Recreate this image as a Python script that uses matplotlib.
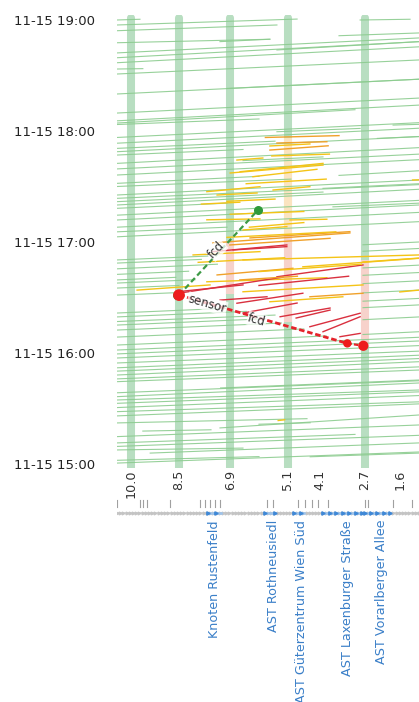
import numpy as np
import matplotlib
matplotlib.use("Agg")
import matplotlib.pyplot as plt

# time in minutes after 11-15 15:00, position in km (decreasing along the road)
band_km = [10.0, 8.5, 6.9, 5.1, 2.7]
band_lo = [-3.0, -3.0, -3.0, -3.0, -3.0]
band_hi = [241.0, 241.0, 241.0, 241.0, 241.0]

# speed coloured pieces of the sensor bands
seg_km = [6.9, 5.1, 5.1, 2.7]
seg_t0 = [94.0, 121.0, 79.0, 66.0]
seg_t1 = [118.0, 174.0, 121.0, 108.0]
seg_col = ['#f7d2cb', '#fbe4c0', '#f7d2cb', '#f7d2cb']

# free flow trajectories (green)
green_km0 = [10.44, 10.44, 10.44, 2.84, 10.44, 10.44, 10.44, 10.44, 10.44, 10.44, 5.44, 7.22, 3.5,
             10.44, 10.44, 10.44, 10.44, 5.44, 1.81,
             10.44, 10.44, 10.44, 10.44, 10.44, 10.44, 10.44, 10.44, 10.44, 10.44, 10.44, 10.44,
             10.44, 10.44, 3.69, 2.3, 3.5, 6.5,
             10.44, 10.44, 10.44, 10.44, 10.44, 10.44, 10.44, 10.44, 10.44, 10.44, 10.44, 10.44,
             10.44, 10.44,
             2.75, 2.75, 2.75, 2.75, 2.75, 2.75, 2.75, 2.75,
             10.44, 10.44, 10.44, 7.2, 10.44, 10.44, 10.44, 10.44, 10.44, 10.44, 9.63, 7.22,
             10.44, 10.44, 9.4, 10.44, 4.4, 10.44, 10.44, 6.0,
             10.44, 7.0, 10.44, 10.44, 10.44, 10.44, 10.44, 10.44, 10.44, 10.44, 10.44,
             10.44, 10.44, 10.44, 10.44, 10.44, 10.44, 10.44, 2.75, 2.75, 4.0]
green_km1 = [9.72, 4.81, 5.44, 1.28, 5.66, 1.0, 1.0, 1.0, 9.63, 1.0, 1.0, 5.66, 1.0,
             1.0, 1.0, 3.0, 6.0, 2.84, 1.0,
             1.0, 5.5, 1.0, 6.5, 1.0, 1.0, 6.0, 1.0, 1.0, 4.0, 1.0, 7.0,
             1.0, 1.0, 1.0, 1.0, 1.0, 4.0,
             7.6, 7.8, 8.6, 8.0, 8.5, 8.6, 7.0, 6.4, 5.8, 5.3, 4.6, 3.9,
             1.0, 1.0,
             1.0, 1.0, 1.0, 1.0, 1.0, 1.0, 1.0, 1.0,
             1.0, 1.0, 1.0, 1.0, 1.0, 1.0, 1.0, 1.0, 1.0, 4.5, 7.5, 1.0,
             1.0, 3.0, 1.0, 6.5, 1.0, 1.0, 6.0, 4.4,
             1.0, 1.0, 1.0, 1.0, 5.0, 1.0, 1.0, 7.0, 7.3, 8.2, 5.5,
             1.0, 1.0, 1.0, 1.0, 1.0, 1.0, 1.0, 1.0, 1.0, 1.0]
green_t0 = [240.0, 237.3, 234.2, 240.0, 227.7, 222.2, 219.6, 216.9, 213.5, 210.8, 223.8, 228.3, 231.5,
            189.7, 185.5, 184.3, 183.5, 179.6, 183.2,
            173.4, 170.6, 168.8, 167.0, 162.5, 156.2, 151.7, 145.4, 143.6, 141.8, 140.0, 138.2,
            131.9, 122.8, 139.0, 176.0, 156.0, 164.0,
            110.3, 108.6, 99.5, 97.8, 95.1, 91.3, 81.6, 79.5, 75.1, 72.4, 68.6, 64.3,
            61.6, 57.3,
            70.0, 78.0, 84.5, 88.0, 97.5, 102.0, 115.0, 118.5,
            54.6, 48.1, 44.5, 41.1, 36.4, 34.6, 32.8, 30.5, 28.3, 22.2, 17.8, 19.5,
            14.8, 11.4, 5.9, 7.6, 3.9, 0.5, 2.0, 21.5,
            200.0, 203.0, 176.5, 159.5, 150.0, 134.5, 128.0, 125.5, 105.5, 102.5, 77.0,
            59.5, 52.0, 50.2, 46.0, 38.5, 26.0, 9.5, 92.5, 106.0, 149.0]
green_t1 = [240.4, 240.5, 237.3, 240.4, 229.6, 230.3, 228.3, 225.5, 213.7, 218.4, 228.3, 229.6, 233.0,
            197.8, 194.0, 191.5, 186.5, 181.4, 183.6,
            181.5, 174.5, 177.0, 170.0, 171.0, 164.5, 155.5, 153.5, 151.0, 147.0, 148.5, 141.0,
            140.0, 131.0, 141.0, 177.0, 158.5, 166.0,
            112.4, 110.6, 100.9, 99.6, 96.5, 92.6, 84.2, 82.5, 78.5, 76.2, 73.0, 69.2,
            68.5, 64.0,
            71.5, 79.5, 86.0, 89.5, 99.0, 103.5, 116.5, 120.0,
            61.0, 55.3, 50.8, 45.4, 43.8, 40.0, 39.0, 37.0, 33.6, 24.5, 18.5, 26.5,
            21.1, 16.0, 11.4, 8.6, 5.9, 6.5, 4.0, 22.3,
            208.0, 208.0, 184.5, 167.5, 154.0, 142.5, 136.0, 128.0, 108.0, 104.2, 80.5,
            66.5, 58.8, 57.0, 52.5, 45.0, 32.5, 15.5, 94.0, 107.5, 151.5]

# congested trajectories: y = yellow, o = orange, r = red
cong_km0 = [6.69, 6.59, 6.19, 5.44, 5.66, 7.63, 7.31, 5.56, 6.5, 5.03, 6.28, 5.66, 6.9, 7.63, 1.2,
            6.91, 6.81, 8.06, 6.5, 4.63, 5.44, 7.31, 7.63, 8.56, 9.81, 6.5, 4.41, 7.22, 6.69,
            5.66, 6.5, 5.34, 4.41, 4.0, 3.47, 4.84, 2.75, 1.6, 7.44, 7.44, 8.47, 7.0, 5.4,
            6.9, 6.4, 7.0, 5.8, 5.6, 7.8, 6.3, 6.0, 6.0, 7.9, 6.6]
cong_km1 = [5.88, 4.0, 4.19, 3.88, 4.41, 5.97, 6.06, 4.41, 5.13, 3.88, 3.16, 3.84, 4.0, 5.97, 1.0,
            3.78, 5.13, 5.97, 1.0, 1.0, 2.75, 4.94, 3.88, 6.5, 7.53, 2.75, 2.75, 5.75, 4.63,
            3.38, 4.81, 3.78, 2.84, 2.84, 2.84, 3.78, 1.0, 1.0, 3.16, 5.13, 5.25, 3.6, 5.2,
            4.6, 3.9, 5.5, 3.5, 3.8, 6.6, 4.6, 2.8, 3.2, 5.2, 4.8]
cong_t0 = [164.3, 158.0, 155.3, 173.5, 171.9, 147.2, 145.4, 148.1, 126.5, 131.9, 122.2, 169.7, 157.3, 132.0, 153.5,
           118.4, 115.7, 113.0, 110.3, 106.6, 101.2, 102.2, 98.5, 93.1, 94.0, 93.1, 90.4, 88.6, 86.9,
           87.7, 81.6, 79.6, 74.2, 71.5, 68.8, 78.9, 109.2, 93.0, 119.5, 114.8, 92.4, 122.5, 23.5,
           135.0, 151.5, 142.0, 176.5, 166.5, 140.5, 128.0, 104.0, 96.5, 109.0, 99.5]
cong_t1 = [165.4, 162.5, 159.3, 174.2, 173.0, 149.9, 146.5, 149.9, 128.3, 132.3, 125.6, 172.0, 161.6, 132.5, 153.6,
           122.0, 117.5, 114.8, 113.0, 111.2, 107.6, 105.8, 100.7, 96.8, 96.8, 96.8, 92.3, 90.4, 92.3,
           90.4, 87.0, 84.3, 81.5, 79.6, 70.6, 83.2, 111.3, 94.0, 124.9, 118.4, 101.0, 125.5, 23.9,
           136.5, 154.0, 143.2, 177.5, 167.5, 141.5, 130.5, 108.0, 101.5, 111.5, 101.5]
cong_kind = ['y', 'y', 'y', 'o', 'y', 'y', 'y', 'y', 'y', 'y', 'o', 'o', 'y', 'y', 'y',
             'o', 'r', 'y', 'y', 'y', 'r', 'o', 'y', 'r', 'y', 'y', 'o', 'r', 'r',
             'y', 'r', 'r', 'r', 'r', 'r', 'r', 'y', 'y', 'o', 'r', 'r', 'y', 'y',
             'y', 'y', 'y', 'o', 'y', 'y', 'y', 'y', 'r', 'y', 'o']

# estimated wave fronts
fcd_up_km = [8.5, 6.03]
fcd_up_t = [91.3, 137.3]
shock_km = [8.5, 3.24]
shock_t = [91.3, 65.2]
tail_km = [3.24, 2.74]
tail_t = [65.2, 63.9]

time_ticks = [0, 60, 120, 180, 240]
time_labels = ['11-15 15:00', '11-15 16:00', '11-15 17:00', '11-15 18:00', '11-15 19:00']
km_ticks = [10.0, 8.5, 6.9, 5.1, 4.1, 2.7, 1.6]

# road strip below the diagram
road_marks = [10.43, 9.72, 9.63, 9.5, 8.78, 7.84, 7.69, 7.53, 7.38, 7.22, 5.75, 5.56,
              4.78, 4.56, 4.34, 4.16, 3.84, 2.69, 2.59, 1.81, 1.22]
road_blue_from = [7.6, 5.8, 4.9, 4.0, 2.7]
road_blue_to = [7.2, 5.5, 4.6, 2.78, 1.9]
place_names = ['Knoten Rustenfeld', 'AST Rothneusiedl', 'AST Güterzentrum Wien Süd',
               'AST Laxenburger Straße', 'AST Vorarlberger Allee']
place_km = [7.38, 5.56, 4.66, 3.25, 2.16]

colors = {'y': '#f4c417', 'o': '#f0a12a', 'r': '#d9303f'}

fig = plt.figure(figsize=(4.19, 7.02), dpi=100)
ax = fig.add_axes([117 / 419, 1 - 468 / 702, 302 / 419, 453 / 702])
ax.set_xlim(10.4375, 1.0)
ax.set_ylim(-2.16, 242.7)

for km, lo, hi in zip(band_km, band_lo, band_hi):
    ax.plot([km, km], [lo, hi], color='#b8dec1', lw=5.8, solid_capstyle='round', zorder=1)
for km, a, b, c in zip(seg_km, seg_t0, seg_t1, seg_col):
    ax.plot([km, km], [a, b], color=c, lw=5.8, zorder=1.5)

for k0, k1, a, b in zip(green_km0, green_km1, green_t0, green_t1):
    ax.plot([k0, k1], [a, b], color='#8ccc8f', lw=0.8, alpha=0.9, zorder=2)
for k0, k1, a, b, kind in zip(cong_km0, cong_km1, cong_t0, cong_t1, cong_kind):
    ax.plot([k0, k1], [a, b], color=colors[kind], lw=1.0, zorder=3)

# wave fronts
ax.plot(fcd_up_km, fcd_up_t, color='#3d9a45', lw=1.6, ls=(0, (2.5, 1.5)), zorder=5)
ax.plot(shock_km, shock_t, color='#e5232b', lw=2.0, ls=(0, (2, 1)), zorder=5)
ax.plot(tail_km, tail_t, color='#e5232b', lw=1.6, ls=(0, (2, 1)), zorder=5)
ax.scatter([fcd_up_km[1], fcd_up_km[0] + 0.05], [fcd_up_t[1], fcd_up_t[0]], s=30, color='#2f9a3a', zorder=6)
ax.scatter([shock_km[0], tail_km[0], tail_km[1]], [shock_t[0], tail_t[0], tail_t[1]],
           s=[55, 25, 40], color='#ee1c1c', zorder=7)

box = dict(facecolor='white', edgecolor='none', alpha=0.75, pad=0.5)
ax.text(7.32, 115.7, 'fcd', rotation=47, fontsize=8.5, color='#333333', ha='center', va='center', bbox=box, zorder=8)
ax.text(7.62, 86.6, 'sensor', rotation=-16, fontsize=8.5, color='#333333', ha='center', va='center', bbox=box, zorder=8)
ax.text(6.07, 77.8, 'fcd', rotation=-16, fontsize=8.5, color='#333333', ha='center', va='center', bbox=box, zorder=8)

ax.set_yticks(time_ticks)
ax.set_yticklabels(time_labels)
ax.set_xticks(km_ticks)
ax.set_xticklabels(['%.1f' % k for k in km_ticks], rotation=90)
ax.tick_params(axis='y', length=0, pad=16, labelsize=9.5, labelcolor='#222222')
ax.tick_params(axis='x', length=0, pad=1, labelsize=9.2, labelcolor='#333333')
for s in ax.spines.values():
    s.set_visible(False)

# road strip with junction names
ax2 = fig.add_axes([117 / 419, 0, 302 / 419, 234 / 702])
ax2.set_xlim(10.4375, 1.0)
ax2.set_ylim(234, 0)
ax2.axis('off')
for km in road_marks:
    ax2.plot([km, km], [32, 39], color='#a0a0a0', lw=0.8)
road_x = np.linspace(10.44, 1.0, 95)
ax2.plot(road_x, np.full(road_x.size, 45), color='#d4d4d4', lw=1.2, marker='>', ms=2.0, mec='#c4c4c4', mfc='#c4c4c4')
for a, b in zip(road_blue_from, road_blue_to):
    xs = np.linspace(a, b, max(2, int(abs(a - b) / 0.1) + 1))
    ax2.plot(xs, np.full(xs.size, 45), color='#9cc3ec', lw=1.8, marker='>', ms=2.4,
             mec='#3f88d6', mfc='#3f88d6', markevery=2)
for name, km in zip(place_names, place_km):
    ax2.text(km, 52, name, rotation=90, ha='center', va='top', fontsize=9.2, color='#3a7fc8', clip_on=False)

fig.savefig('out.png', dpi=100, facecolor='white')
